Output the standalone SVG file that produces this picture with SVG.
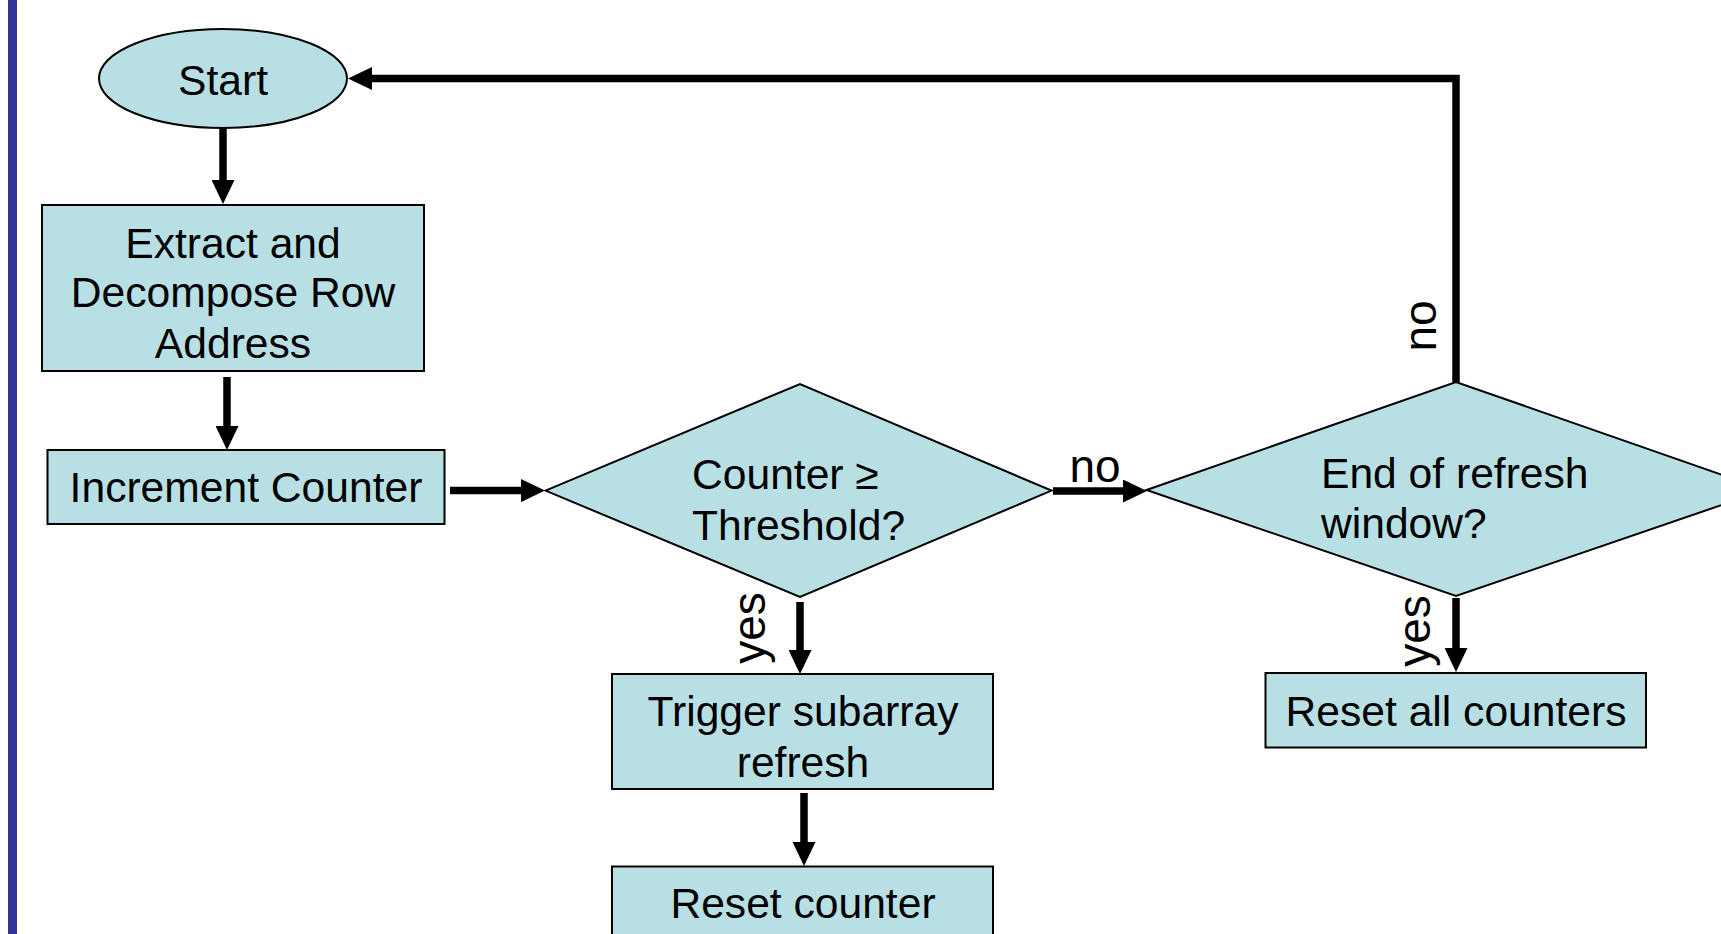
<svg xmlns="http://www.w3.org/2000/svg" width="1721" height="934" viewBox="0 0 1721 934">
  <defs>
    <style>
      .node { fill: #B8E0E4; stroke: #000; stroke-width: 2; }
      .lbl { font-family: "Liberation Sans", Arial, sans-serif; font-size: 42.6px; fill: #000; text-anchor: middle; }
      .lbl-start { font-family: "Liberation Sans", Arial, sans-serif; font-size: 42.6px; fill: #000; text-anchor: start; }
      .edge-lbl { font-family: "Liberation Sans", Arial, sans-serif; font-size: 46px; fill: #000; text-anchor: middle; }
      .conn { fill: none; stroke: #000; stroke-width: 7.5; stroke-linejoin: miter; marker-end: url(#arrow); }
    </style>
    <marker id="arrow" viewBox="0 0 24 23" markerWidth="24" markerHeight="23" refX="4" refY="11.5" orient="auto" markerUnits="userSpaceOnUse">
      <path d="M0,0 L24,11.5 L0,23 z" fill="#000"/>
    </marker>
  </defs>

  <rect width="1721" height="934" fill="#fff"/>
  <!-- side bar -->
  <rect x="8" y="0" width="9" height="934" fill="#333399"/>

  <!-- connectors -->
  <g id="connectors">
    <path class="conn" d="M223,128 V184"/>
    <path class="conn" d="M227,377 V430"/>
    <path class="conn" d="M450,490.6 H525"/>
    <path class="conn" d="M1053,491 H1127"/>
    <path class="conn" d="M800,602 V654"/>
    <path class="conn" d="M804,793 V846"/>
    <path class="conn" d="M1456,598 V652"/>
    <path class="conn" d="M1456,382 V78.5 H368"/>
    <text class="edge-lbl" x="1095" y="482">no</text>
    <text class="edge-lbl" x="1436" y="326" transform="rotate(-90 1436 326)">no</text>
    <text class="edge-lbl" x="765" y="628" transform="rotate(-90 765 628)">yes</text>
    <text class="edge-lbl" x="1430" y="631" transform="rotate(-90 1430 631)">yes</text>
  </g>

  <g id="start">
    <ellipse class="node" cx="223" cy="78.5" rx="124" ry="49.5"/>
    <text class="lbl" x="223" y="95">Start</text>
  </g>

  <g id="extract">
    <rect class="node" x="42" y="205" width="382" height="166"/>
    <text class="lbl" x="233" y="258">Extract and</text>
    <text class="lbl" x="233" y="307">Decompose Row</text>
    <text class="lbl" x="233" y="358">Address</text>
  </g>

  <g id="increment">
    <rect class="node" x="47.5" y="450" width="397" height="74"/>
    <text class="lbl" x="246" y="502">Increment Counter</text>
  </g>

  <g id="threshold">
    <polygon class="node" points="545.5,490.6 800,384 1051.5,490.6 800,597"/>
    <text class="lbl-start" x="692" y="489">Counter ≥</text>
    <text class="lbl-start" x="692" y="540">Threshold?</text>
  </g>

  <g id="window">
    <polygon class="node" points="1146.5,490 1456,382 1765.5,490 1456,596"/>
    <text class="lbl-start" x="1321" y="488">End of refresh</text>
    <text class="lbl-start" x="1321" y="538">window?</text>
  </g>

  <g id="trigger">
    <rect class="node" x="612" y="674" width="381" height="115"/>
    <text class="lbl" x="803" y="726">Trigger subarray</text>
    <text class="lbl" x="803" y="777">refresh</text>
  </g>

  <g id="reset-counter">
    <rect class="node" x="612" y="866.5" width="381" height="120"/>
    <text class="lbl" x="803" y="918">Reset counter</text>
  </g>

  <g id="reset-all">
    <rect class="node" x="1265.5" y="673" width="380.5" height="74.5"/>
    <text class="lbl" x="1456" y="726">Reset all counters</text>
  </g>
</svg>
